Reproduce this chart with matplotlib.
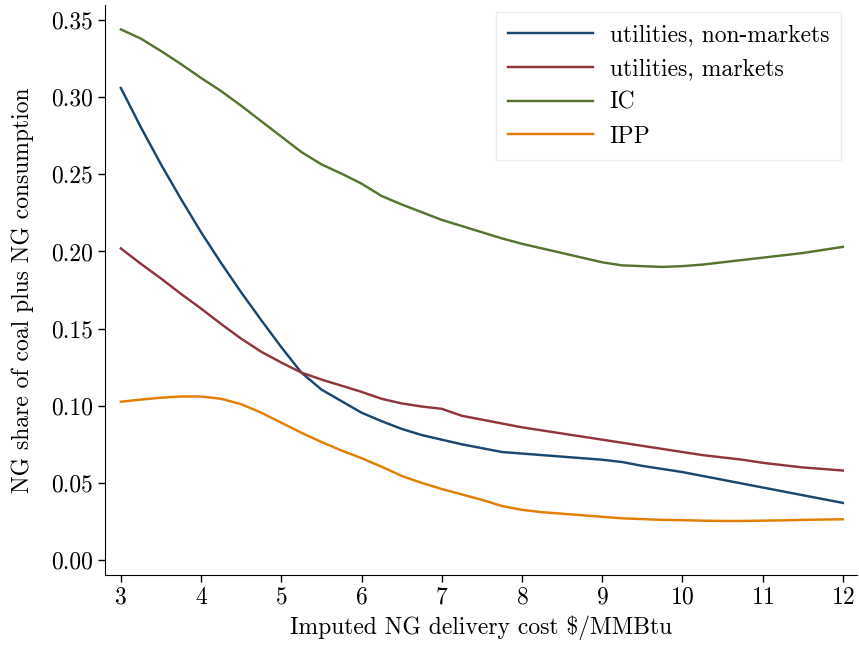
import matplotlib
matplotlib.use("Agg")
import matplotlib.pyplot as plt
import numpy as np

# NG delivery cost grid ($/MMBtu)
cost = np.arange(3.0, 12.01, 0.25)

utilities_nonmarkets = [
    0.306, 0.2805, 0.2565, 0.234, 0.2125, 0.1925, 0.1735, 0.1555, 0.138, 0.1215,
    0.1105, 0.103, 0.0955, 0.090, 0.085, 0.081, 0.078, 0.075, 0.0725, 0.070,
    0.069, 0.068, 0.067, 0.066, 0.065, 0.0635, 0.061, 0.059, 0.057, 0.0545,
    0.052, 0.0495, 0.047, 0.0445, 0.042, 0.0395, 0.037,
]
utilities_markets = [
    0.202, 0.192, 0.1825, 0.1725, 0.163, 0.153, 0.1435, 0.135, 0.128, 0.1215,
    0.117, 0.113, 0.109, 0.1045, 0.1015, 0.0995, 0.098, 0.0935, 0.091, 0.0885,
    0.086, 0.084, 0.082, 0.080, 0.078, 0.076, 0.074, 0.072, 0.070, 0.068,
    0.0665, 0.065, 0.063, 0.0615, 0.060, 0.059, 0.058,
]
ic = [
    0.344, 0.338, 0.330, 0.3215, 0.3125, 0.304, 0.2945, 0.2845, 0.2745, 0.2645,
    0.2565, 0.2505, 0.244, 0.236, 0.2305, 0.2255, 0.2205, 0.2165, 0.2125, 0.2085,
    0.205, 0.202, 0.199, 0.196, 0.193, 0.191, 0.1905, 0.190, 0.1905, 0.1915,
    0.193, 0.1945, 0.196, 0.1975, 0.199, 0.201, 0.203,
]
ipp = [
    0.1026, 0.104, 0.1052, 0.106, 0.106, 0.1045, 0.101, 0.0955, 0.089, 0.0825,
    0.0765, 0.071, 0.066, 0.0605, 0.0545, 0.050, 0.046, 0.0425, 0.039, 0.035,
    0.0325, 0.031, 0.030, 0.029, 0.028, 0.027, 0.0265, 0.026, 0.0258, 0.0255,
    0.0253, 0.0253, 0.0255, 0.0257, 0.026, 0.0262, 0.0264,
]

series = [
    ("utilities, non-markets", utilities_nonmarkets, "#1a476f"),
    ("utilities, markets", utilities_markets, "#90353b"),
    ("IC", ic, "#55752f"),
    ("IPP", ipp, "#e37e00"),
]

plt.rcParams["font.family"] = "cmr10"
plt.rcParams["axes.formatter.use_mathtext"] = True
plt.rcParams["axes.unicode_minus"] = False

fig = plt.figure(figsize=(8.59, 6.46), dpi=100)
ax = fig.add_axes([0.122, 0.110, 0.876, 0.882])

for label, vals, color in series:
    ax.plot(cost, vals, color=color, linewidth=1.75, label=label,
            solid_joinstyle="round")

ax.set_xlim(2.80, 12.18)
ax.set_ylim(-0.0097, 0.3597)
ax.set_xticks(range(3, 13))
ax.set_yticks(np.arange(0, 0.351, 0.05))
ax.yaxis.set_major_formatter(matplotlib.ticker.FormatStrFormatter("%.2f"))

for side in ("top", "right"):
    ax.spines[side].set_visible(False)
ax.tick_params(direction="out", length=5, width=1, labelsize=17)

ax.set_xlabel("Imputed NG delivery cost $/MMBtu", fontsize=17, labelpad=5)
ax.set_ylabel("NG share of coal plus NG consumption", fontsize=17, labelpad=12)

leg = ax.legend(loc="upper right", fontsize=17, frameon=True, fancybox=False,
                handlelength=3.6, handletextpad=0.7, labelspacing=0.5,
                borderpad=0.5, borderaxespad=0, bbox_to_anchor=(0.978, 0.988))
leg.get_frame().set_edgecolor("#e3ecf0")
leg.get_frame().set_linewidth(1.0)

fig.savefig("out.png", dpi=100)
